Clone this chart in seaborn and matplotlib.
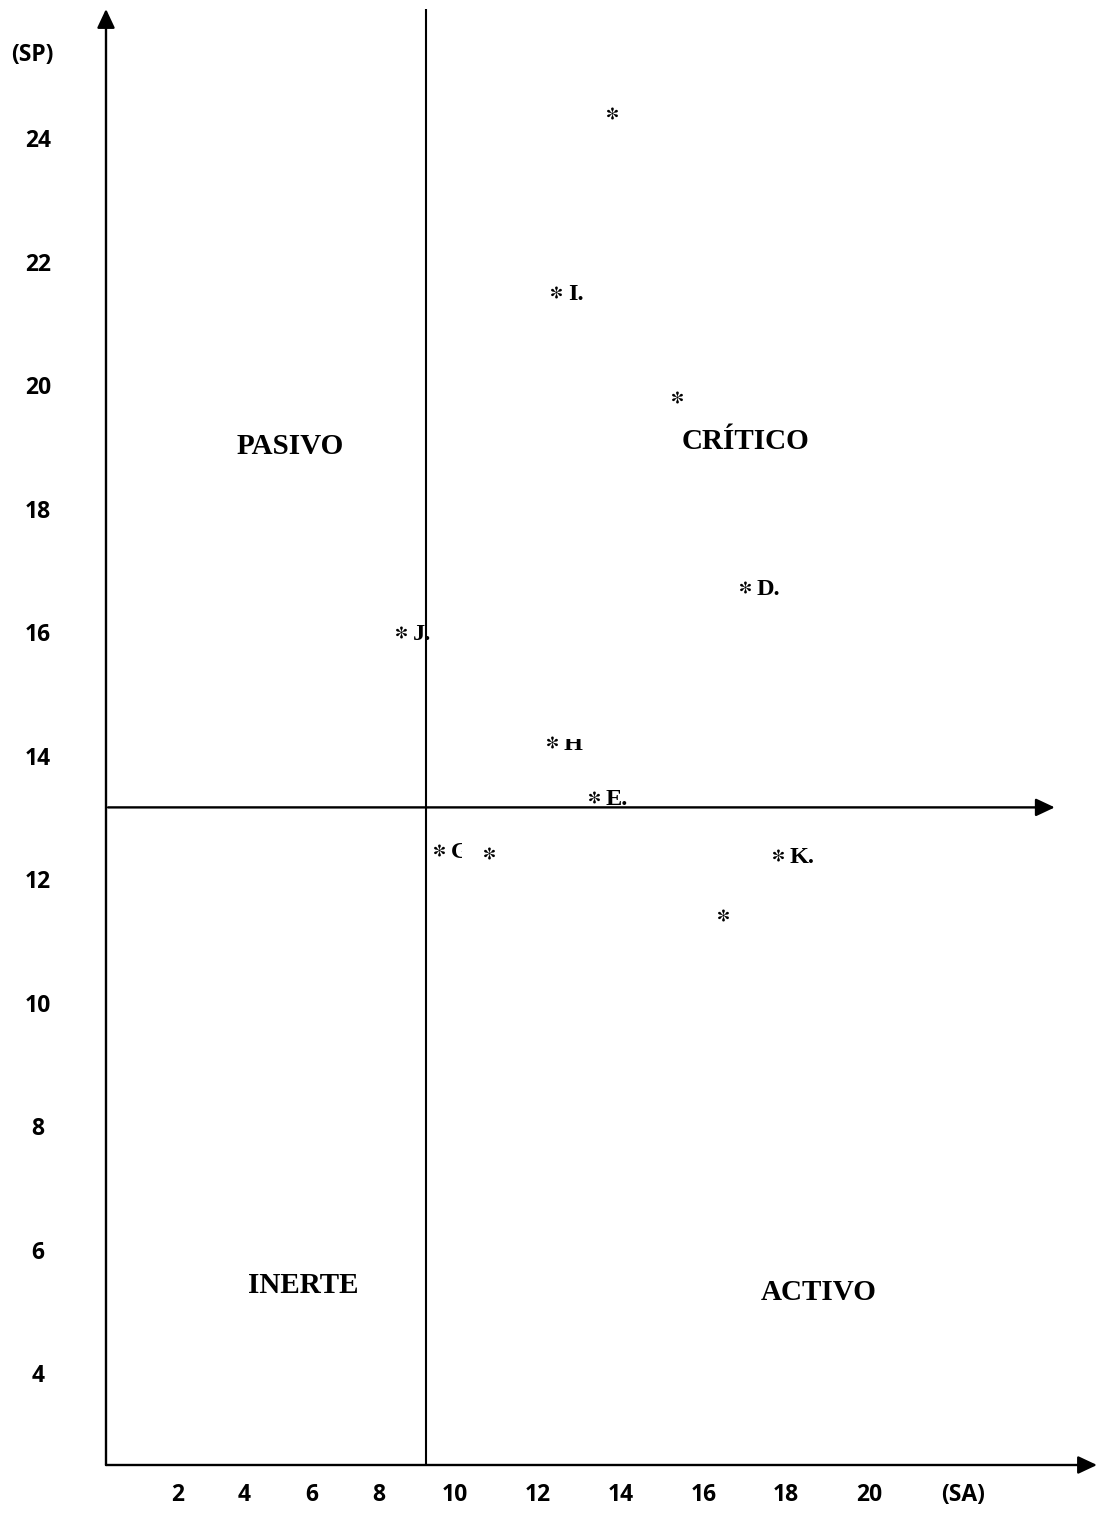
import matplotlib
matplotlib.use("Agg")
import matplotlib.pyplot as plt
from matplotlib.transforms import Bbox, TransformedBbox
import seaborn as sns
import pandas as pd

# -------- data --------
sa_values = [13.79, 12.44, 15.36, 17.00, 8.70, 12.34, 13.36, 9.61, 10.82, 17.80, 16.47]
sp_values = [24.40, 21.51, 19.81, 16.73, 16.00, 14.22, 13.33, 12.47, 12.42, 12.39, 11.42]
point_labels = ["", "I.", "", "D.", "J.", "H", "E.", "G", "", "K.", ""]

x_tick_labels = ["2", "4", "6", "8", "10", "12", "14", "16", "18", "20", "(SA)"]
y_tick_labels = ["24", "22", "20", "18", "16", "14", "12", "10", "8", "6", "4"]
y_tick_values = [24, 22, 20, 18, 16, 14, 12, 10, 8, 6, 4]

quadrant_names = ["PASIVO", "CRÍTICO", "INERTE", "ACTIVO"]
sa_cut = 9.29
sp_cut = 13.16

# -------- layout (not data) --------
x_tick_pos = [3.30, 4.90, 6.55, 8.15, 10, 12, 14, 16, 18, 20, 22.27]
quadrant_pos = [(6.01, 19.0), (17.03, 19.08), (6.33, 5.41), (18.79, 5.31)]
# the original text boxes cut some labels off: (x0, y0, x1, y1) in data units
label_clip = {"H": (0, 0, 30, 14.27), "G": (0, 0, 10.17, 30)}

df = pd.DataFrame({"SA": sa_values, "SP": sp_values, "label": point_labels})

sns.set_style("white")
plt.rcParams["text.color"] = "black"
plt.rcParams["xtick.color"] = "black"
plt.rcParams["ytick.color"] = "black"
plt.rcParams["mathtext.fontset"] = "stix"

fig = plt.figure(figsize=(11.01, 15.16), dpi=100)
ax = fig.add_axes([106 / 1101, 51 / 1516, 991 / 1101, 1456 / 1516])
ax.set_xlim(1.57, 25.51)
ax.set_ylim(2.51, 26.09)
for sp in ax.spines.values():
    sp.set_visible(False)

# main axes with arrows
arrow = dict(arrowstyle="-|>,head_length=1.15,head_width=0.54", lw=1.7,
             color="black", shrinkA=0, shrinkB=0, mutation_scale=10)
ax.annotate("", xy=(1, 0), xytext=(0, 0), xycoords="axes fraction", arrowprops=arrow)
ax.annotate("", xy=(0, 1), xytext=(0, 0), xycoords="axes fraction", arrowprops=arrow)

# quadrant dividers
ax.axvline(sa_cut, color="black", lw=1.5)
ax.annotate("", xy=(24.49, sp_cut), xytext=(1.62, sp_cut), xycoords="data", arrowprops=arrow)

# points
sns.scatterplot(data=df, x="SA", y="SP", marker=r"$\mathbf{*}$", s=75, color="black",
                linewidth=0, ax=ax, zorder=5)
for _, row in df.iterrows():
    if row["label"]:
        t = ax.annotate(row["label"], xy=(row["SA"], row["SP"]), xytext=(8.6, -1.8),
                        textcoords="offset points", ha="left", va="center", color="black",
                        fontsize=17.5, fontweight="bold", family="Liberation Serif")
        if row["label"] in label_clip:
            x0, y0, x1, y1 = label_clip[row["label"]]
            t.set_clip_box(TransformedBbox(Bbox([[x0, y0], [x1, y1]]), ax.transData))
            t.set_clip_on(True)

# quadrant names
for name, (qx, qy) in zip(quadrant_names, quadrant_pos):
    ax.text(qx, qy, name, ha="center", va="center", fontsize=21, color="black",
            fontweight="bold", family="Liberation Serif")

# ticks
ax.set_xticks(x_tick_pos)
ax.set_xticklabels(x_tick_labels)
ax.set_yticks(y_tick_values)
ax.set_yticklabels(y_tick_labels)
ax.tick_params(axis="both", length=0, labelsize=16.5, labelcolor="black")
ax.tick_params(axis="x", pad=13)
ax.tick_params(axis="y", pad=49)
for lab in ax.get_xticklabels() + ax.get_yticklabels():
    lab.set_family("Open Sans")
    lab.set_fontweight("bold")
for lab in ax.get_yticklabels():
    lab.set_ha("center")
ax.set_xlabel("")
ax.set_ylabel("")

fig.text(32 / 1101, 1 - 55 / 1516, "(SP)", ha="center", va="center", color="black",
         fontsize=16.5, fontweight="bold", family="Open Sans")

fig.savefig("out.png", dpi=100)
